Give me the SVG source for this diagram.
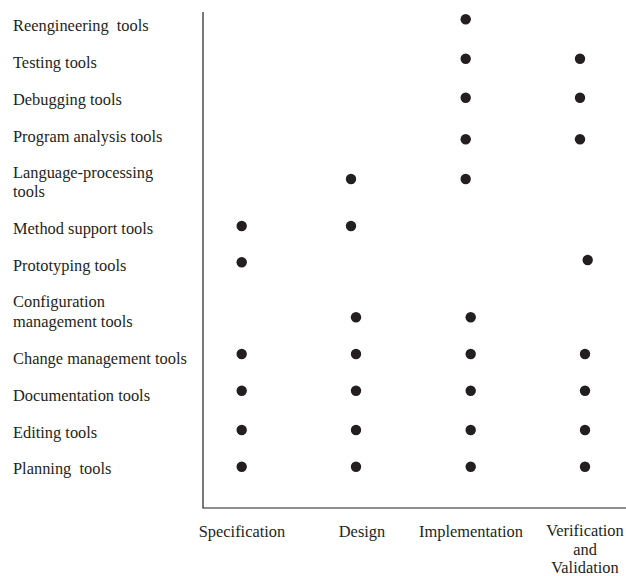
<svg xmlns="http://www.w3.org/2000/svg" width="626" height="576" viewBox="0 0 626 576">
  <style>
    text { font-family: "Liberation Serif", Tinos, "Times New Roman", serif; font-size: 16.4px; fill: #231f20; white-space: pre; }
    .mid { text-anchor: middle; }
    .dot { fill: #231f20; }
    .axis { stroke: #231f20; stroke-width: 1.2; fill: none; }
  </style>
  <rect width="626" height="576" fill="#ffffff"/>

  <!-- axes -->
  <g id="axes">
    <path class="axis" d="M203,12 V508 H626"/>
  </g>

  <!-- tool categories -->
  <g id="row-labels">
    <text x="13" y="31" xml:space="preserve">Reengineering  tools</text>
    <text x="13" y="68">Testing tools</text>
    <text x="13" y="105">Debugging tools</text>
    <text x="13" y="142">Program analysis tools</text>
    <text x="13" y="178">Language-processing</text>
    <text x="13" y="197">tools</text>
    <text x="13" y="234">Method support tools</text>
    <text x="13" y="271">Prototyping tools</text>
    <text x="13" y="307">Configuration</text>
    <text x="13" y="327">management tools</text>
    <text x="13" y="364">Change management tools</text>
    <text x="13" y="401">Documentation tools</text>
    <text x="13" y="438">Editing tools</text>
    <text x="13" y="474" xml:space="preserve">Planning  tools</text>
  </g>

  <!-- process activities -->
  <g id="column-labels">
    <text class="mid" x="242" y="536.5">Specification</text>
    <text class="mid" x="362" y="536.5">Design</text>
    <text class="mid" x="471" y="536.5">Implementation</text>
    <text class="mid" x="585" y="536">Verification</text>
    <text class="mid" x="585" y="554.5">and</text>
    <text class="mid" x="585" y="572.5">Validation</text>
  </g>

  <!-- activity markers -->
  <g id="markers">
    <circle class="dot" cx="465.7" cy="19.3" r="5.2"/>
    <circle class="dot" cx="465.7" cy="58.7" r="5.2"/>
    <circle class="dot" cx="580" cy="58.7" r="5.2"/>
    <circle class="dot" cx="465.7" cy="97.7" r="5.2"/>
    <circle class="dot" cx="580" cy="97.7" r="5.2"/>
    <circle class="dot" cx="465.7" cy="139.3" r="5.2"/>
    <circle class="dot" cx="580" cy="139.3" r="5.2"/>
    <circle class="dot" cx="351" cy="179" r="5.2"/>
    <circle class="dot" cx="465.7" cy="179" r="5.2"/>
    <circle class="dot" cx="241.7" cy="226" r="5.2"/>
    <circle class="dot" cx="351" cy="226" r="5.2"/>
    <circle class="dot" cx="241.7" cy="262.3" r="5.2"/>
    <circle class="dot" cx="587.7" cy="260" r="5.2"/>
    <circle class="dot" cx="356" cy="317.3" r="5.2"/>
    <circle class="dot" cx="470.7" cy="317.3" r="5.2"/>
    <circle class="dot" cx="241.7" cy="354" r="5.2"/>
    <circle class="dot" cx="356" cy="354" r="5.2"/>
    <circle class="dot" cx="470.7" cy="354" r="5.2"/>
    <circle class="dot" cx="585" cy="354" r="5.2"/>
    <circle class="dot" cx="241.7" cy="390.7" r="5.2"/>
    <circle class="dot" cx="356" cy="390.7" r="5.2"/>
    <circle class="dot" cx="470.7" cy="390.7" r="5.2"/>
    <circle class="dot" cx="585" cy="390.7" r="5.2"/>
    <circle class="dot" cx="241.7" cy="430" r="5.2"/>
    <circle class="dot" cx="356" cy="430" r="5.2"/>
    <circle class="dot" cx="470.7" cy="430" r="5.2"/>
    <circle class="dot" cx="585" cy="430" r="5.2"/>
    <circle class="dot" cx="241.7" cy="466.7" r="5.2"/>
    <circle class="dot" cx="356" cy="466.7" r="5.2"/>
    <circle class="dot" cx="470.7" cy="466.7" r="5.2"/>
    <circle class="dot" cx="585" cy="466.7" r="5.2"/>
  </g>
</svg>
